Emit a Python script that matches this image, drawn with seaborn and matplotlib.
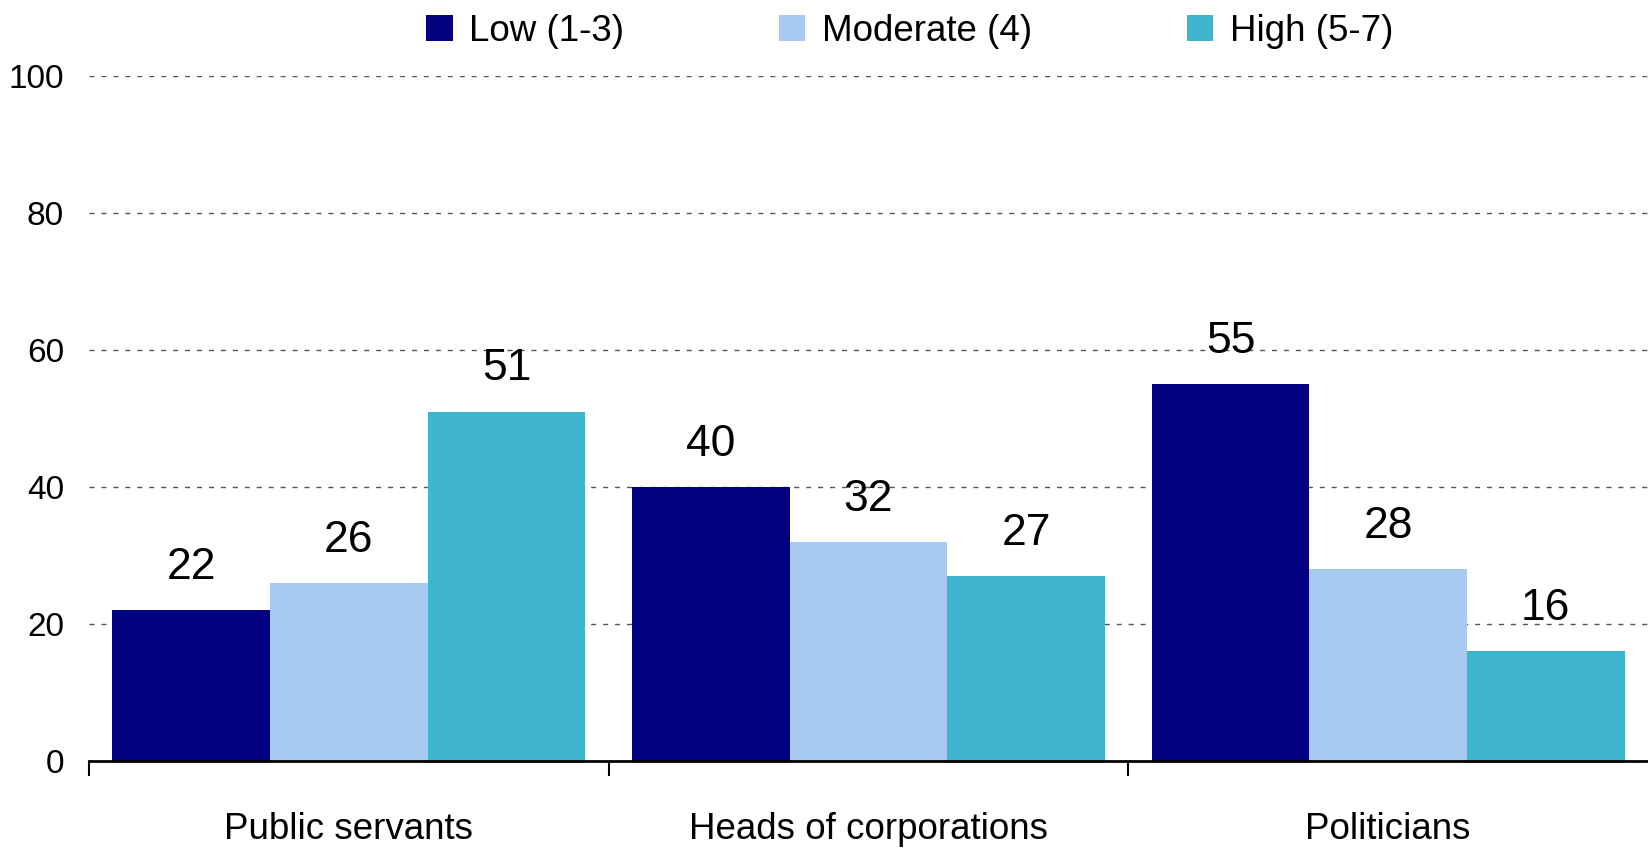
import matplotlib
matplotlib.use("Agg")
import matplotlib.pyplot as plt
from matplotlib.ticker import FixedLocator
import pandas as pd
import seaborn as sns

categories = ["Public servants", "Heads of corporations", "Politicians"]
levels = ["Low (1-3)", "Moderate (4)", "High (5-7)"]
low = [22, 40, 55]
moderate = [26, 32, 28]
high = [51, 27, 16]
y_ticks = [0, 20, 40, 60, 80, 100]
colors = ["#000080", "#A9CAF0", "#40B6CE"]

rows = []
for lvl, vals in zip(levels, [low, moderate, high]):
    for cat, v in zip(categories, vals):
        rows.append({"category": cat, "level": lvl, "value": v})
df = pd.DataFrame(rows)

sns.set_style("white")
plt.rcParams["font.family"] = ["Liberation Sans", "DejaVu Sans"]
plt.rcParams["text.color"] = "black"

fig = plt.figure(figsize=(16.48, 8.48), dpi=100)
ax = fig.add_axes([0.054, 0.1026, 0.946, 0.808])

sns.barplot(data=df, x="category", y="value", hue="level", order=categories,
            hue_order=levels, palette=colors, saturation=1, width=0.91, gap=0,
            errorbar=None, ax=ax, zorder=3, linewidth=0, edgecolor="none")

for cont in ax.containers:
    ax.bar_label(cont, fmt="%d", padding=16, fontsize=32, color="#000000")

ax.set_xlim(-0.5, 2.5)
ax.set_ylim(0, 100)
ax.set_yticks(y_ticks)
ax.set_xlabel("")
ax.set_ylabel("")

ax.grid(axis="y", color="#555555", linestyle=(0, (3.6, 5)), linewidth=1, zorder=0)
ax.grid(axis="x", visible=False)
for s in ["left", "right", "top"]:
    ax.spines[s].set_visible(False)
ax.spines["bottom"].set_color("black")
ax.spines["bottom"].set_linewidth(2)
ax.spines["bottom"].set_zorder(5)

ax.tick_params(axis="y", length=0, labelsize=24, pad=18, colors="black")
ax.tick_params(axis="x", which="major", length=0, labelsize=26.5, pad=37, colors="black")
ax.xaxis.set_minor_locator(FixedLocator([-0.5, 0.5, 1.5]))
ax.tick_params(axis="x", which="minor", length=11, width=1.5, color="black",
               direction="out", bottom=True)

handles, labels = ax.get_legend_handles_labels()
ax.get_legend().remove()
fig.legend(handles, labels, loc="center", bbox_to_anchor=(0.552, 0.963),
           ncol=3, frameon=False, fontsize=26.5, handlelength=0.72,
           handleheight=0.72, handletextpad=0.45, columnspacing=4.2,
           labelcolor="black")

fig.savefig("out.png", dpi=100)
